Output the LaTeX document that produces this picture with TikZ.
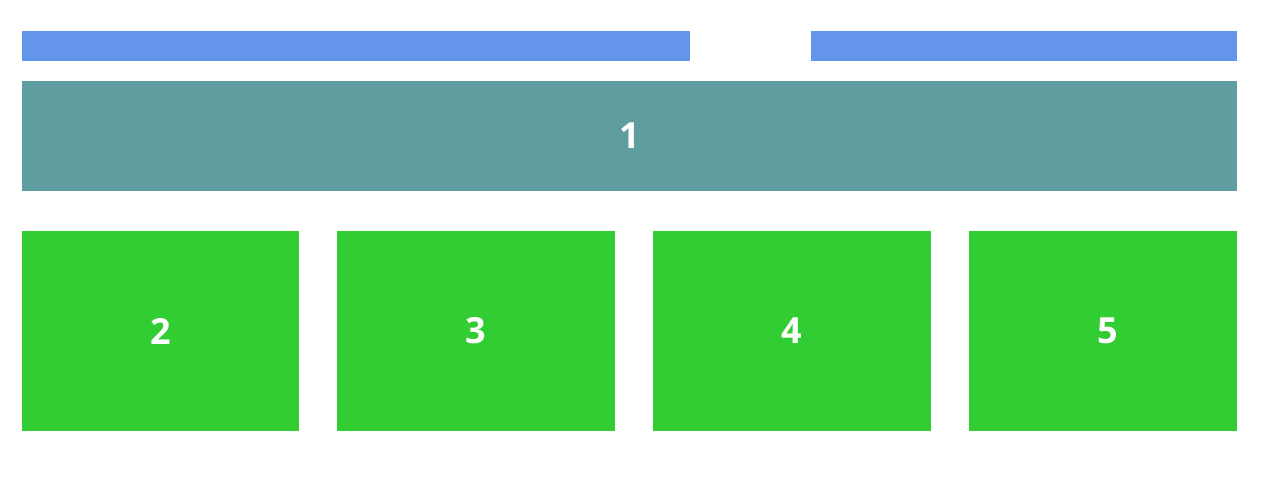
\documentclass[tikz,border=0pt]{standalone}
\usepackage{fontspec}
\setmainfont{Open Sans}
\definecolor{barblue}{HTML}{6495ED}
\definecolor{tealbox}{HTML}{5F9EA0}
\definecolor{greenbox}{HTML}{32CD32}
\begin{document}
\begin{tikzpicture}[x=1pt,y=-1pt,
  lbl/.style={text=white,font=\fontsize{36}{40}\selectfont\bfseries},
  bar/.style={fill=barblue,draw=none},
  wide/.style={fill=tealbox,draw=none},
  cell/.style={fill=greenbox,draw=none}]
\useasboundingbox (0,0) rectangle (1278,484);
\fill[white] (0,0) rectangle (1278,484);
\path[bar] (22,31) rectangle (690,61);
\path[bar] (811,31) rectangle (1237,61);
\path[wide] (22,81) rectangle (1237,191);
\node[lbl] (n1) at (629.5,136) {1};
\path[cell] (22,231) rectangle (299,431);
\node[lbl] (n2) at (160.5,331) {2};
\path[cell] (337,231) rectangle (615,431);
\node[lbl] (n3) at (476,331) {3};
\path[cell] (653,231) rectangle (931,431);
\node[lbl] (n4) at (792,331) {4};
\path[cell] (969,231) rectangle (1237,431);
\node[lbl] (n5) at (1108,331) {5};
\end{tikzpicture}
\end{document}
